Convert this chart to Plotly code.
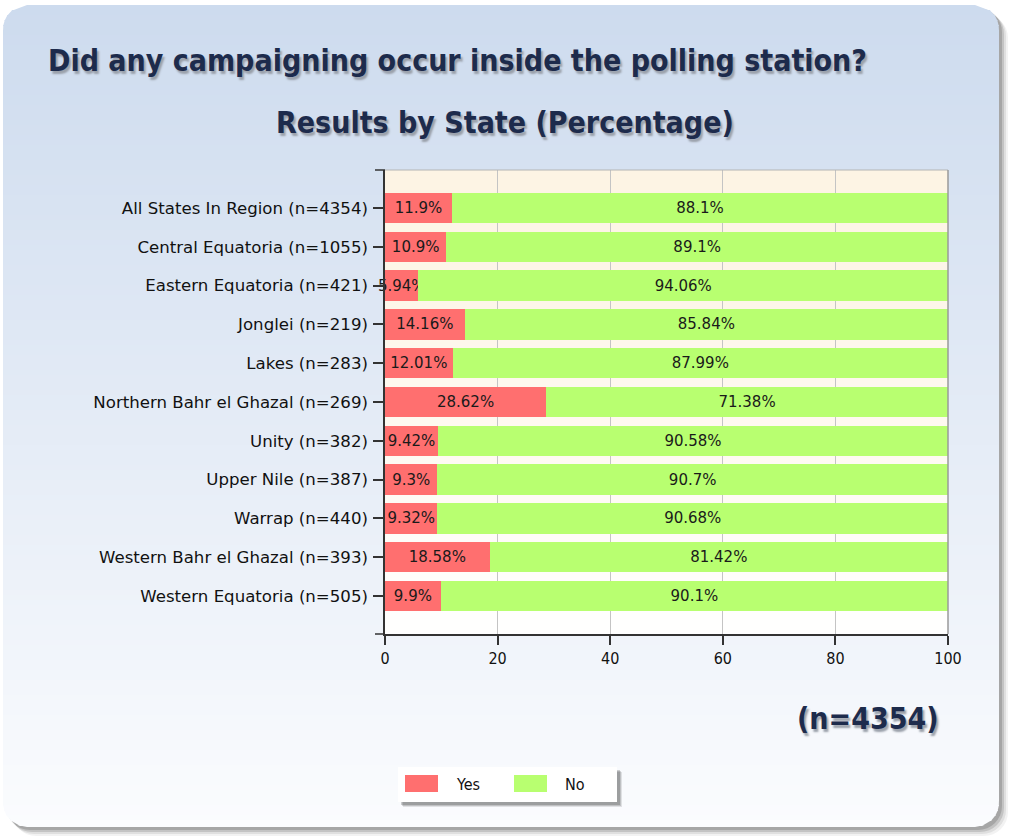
import math
import plotly.graph_objects as go

# ---------------- data ----------------
states = [
    "All States In Region (n=4354)",
    "Central Equatoria (n=1055)",
    "Eastern Equatoria (n=421)",
    "Jonglei (n=219)",
    "Lakes (n=283)",
    "Northern Bahr el Ghazal (n=269)",
    "Unity (n=382)",
    "Upper Nile (n=387)",
    "Warrap (n=440)",
    "Western Bahr el Ghazal (n=393)",
    "Western Equatoria (n=505)",
]
yes_pct = [11.9, 10.9, 5.94, 14.16, 12.01, 28.62, 9.42, 9.3, 9.32, 18.58, 9.9]
no_pct = [88.1, 89.1, 94.06, 85.84, 87.99, 71.38, 90.58, 90.7, 90.68, 81.42, 90.1]
series_names = ["Yes", "No"]
series_colors = ["#ff6f6f", "#b8ff70"]
x_ticks = [0, 20, 40, 60, 80, 100]

title_text = "Did any campaigning occur inside the polling station?"
subtitle_text = "Results by State (Percentage)"
n_text = "(n=4354)"

# ---------------- geometry helpers (pixels -> paper) ----------------
W, H = 1015, 839
PL, PR, PT, PB = 385, 948, 170, 634


def px(x):
    return (x - PL) / (PR - PL)


def py(y):
    return (PB - y) / (PB - PT)


def lerp_color(c0, c1, t):
    return "rgb(%d,%d,%d)" % tuple(round(a + (b - a) * t) for a, b in zip(c0, c1))


def inset(y, top, bottom, r):
    d = min(y - top, bottom - y)
    if d >= r:
        return 0.0
    d = max(d, 0)
    return r - math.sqrt(max(r * r - (r - d) ** 2, 0))


def rounded_path(x0, y0, x1, y1, r, steps=8):
    pts = []
    corners = [
        (x1 - r, y0 + r, -90, 0),
        (x1 - r, y1 - r, 0, 90),
        (x0 + r, y1 - r, 90, 180),
        (x0 + r, y0 + r, 180, 270),
    ]
    for cx, cy, a0, a1 in corners:
        for i in range(steps + 1):
            a = math.radians(a0 + (a1 - a0) * i / steps)
            pts.append((cx + r * math.cos(a), cy + r * math.sin(a)))
    return "M " + " L ".join("%.5f,%.5f" % (px(x), py(y)) for x, y in pts) + " Z"


shapes = []

# panel shadow
P_X0, P_Y0, P_X1, P_Y1, P_R = 3, 5, 999, 827, 24
for off, col in [(9, "rgba(0,0,0,0.05)"), (7, "rgba(0,0,0,0.08)"), (5, "rgba(0,0,0,0.12)"), (3, "rgba(0,0,0,0.15)")]:
    shapes.append(dict(type="path", xref="paper", yref="paper", layer="below",
                       path=rounded_path(P_X0 + off, P_Y0 + off, P_X1 + off, P_Y1 + off, P_R),
                       fillcolor=col, line=dict(width=0)))

# panel gradient (light blue -> near white)
top_c = (205, 219, 238)
bot_c = (251, 252, 254)
step = 5
y = P_Y0
while y < P_Y1:
    y0 = y
    y1 = min(y + step, P_Y1)
    t = (y0 - P_Y0) / (P_Y1 - P_Y0)
    col = lerp_color(top_c, bot_c, t)
    ya, yb = y0, min(y1 + 1, P_Y1)
    ia, ib = inset(ya, P_Y0, P_Y1, P_R), inset(yb, P_Y0, P_Y1, P_R)
    path = "M %.5f,%.5f L %.5f,%.5f L %.5f,%.5f L %.5f,%.5f Z" % (
        px(P_X0 + ia), py(ya), px(P_X1 - ia), py(ya),
        px(P_X1 - ib), py(yb), px(P_X0 + ib), py(yb))
    shapes.append(dict(type="path", xref="paper", yref="paper", layer="below",
                       path=path, fillcolor=col, line=dict(width=0)))
    y = y1

# plot area gradient (cream -> white)
cream = (253, 244, 228)
white = (255, 255, 255)
y = PT
while y < PB:
    y0 = y
    y1 = min(y + 6, PB)
    t = (y0 - PT) / (PB - PT)
    col = lerp_color(cream, white, t ** 1.3)
    shapes.append(dict(type="rect", xref="paper", yref="paper", layer="below",
                       x0=0, x1=1, y0=py(y0), y1=py(min(y1 + 1, PB)),
                       fillcolor=col, line=dict(width=0)))
    y = y1

# plot frame (top / right light gray)
shapes.append(dict(type="line", xref="paper", yref="paper", x0=0, x1=1, y0=1, y1=1,
                   line=dict(color="#b4b4b4", width=1)))
shapes.append(dict(type="line", xref="paper", yref="paper", x0=1, x1=1, y0=0, y1=1,
                   line=dict(color="#9a9a9a", width=1.5)))
# end ticks on y axis
for yy in (0, 1):
    shapes.append(dict(type="line", xref="paper", yref="paper", x0=px(PL - 10), x1=0, y0=yy, y1=yy,
                       line=dict(color="#333333", width=1.5)))

# legend box + shadow
LG_X0, LG_Y0, LG_X1, LG_Y1 = 398, 767, 617, 802
for off, col in [(5, "rgba(0,0,0,0.10)"), (4, "rgba(0,0,0,0.14)"), (3, "rgba(0,0,0,0.18)")]:
    shapes.append(dict(type="rect", xref="paper", yref="paper", layer="below",
                       x0=px(LG_X0 + off), x1=px(LG_X1 + off), y0=py(LG_Y0 + off), y1=py(LG_Y1 + off),
                       fillcolor=col, line=dict(width=0)))
shapes.append(dict(type="rect", xref="paper", yref="paper", layer="below",
                   x0=px(LG_X0), x1=px(LG_X1), y0=py(LG_Y0), y1=py(LG_Y1),
                   fillcolor="white", line=dict(width=0)))

legend_font = dict(family="DejaVu Sans Condensed, DejaVu Sans, sans-serif", size=16, color="#111111")
annotations = []
swatch_x = [405, 514]
for name, col, sx in zip(series_names, series_colors, swatch_x):
    shapes.append(dict(type="rect", xref="paper", yref="paper",
                       x0=px(sx), x1=px(sx + 33), y0=py(775), y1=py(792),
                       fillcolor=col, line=dict(width=0)))
    annotations.append(dict(text=name, xref="paper", yref="paper", x=px(sx + 49), y=py(784),
                            xanchor="left", yanchor="middle", showarrow=False, font=legend_font))

# ---------------- figure ----------------
bar_font = dict(family="DejaVu Sans, Verdana, sans-serif", size=15, color="#1a1a1a")

fig = go.Figure()
for name, vals, col in zip(series_names, [yes_pct, no_pct], series_colors):
    fig.add_trace(go.Bar(
        y=states, x=vals, name=name, orientation="h",
        marker=dict(color=col, line=dict(width=0)),
        text=[f"{v}%" for v in vals], textposition="inside", insidetextanchor="middle",
        textangle=0, constraintext="none", textfont=bar_font, cliponaxis=False,
    ))

title_font = dict(family="DejaVu Sans Condensed, Liberation Sans Narrow, DejaVu Sans, sans-serif",
                  size=30, color="#1d2b4c", weight="bold", shadow="2px 3px 2px #9aa0aa")

annotations += [
    dict(text=title_text, xref="paper", yref="paper", x=px(46), y=py(60),
         xanchor="left", yanchor="middle", showarrow=False, font=title_font),
    dict(text=subtitle_text, xref="paper", yref="paper", x=px(505), y=py(122),
         xanchor="center", yanchor="middle", showarrow=False, font=title_font),
    dict(text=n_text, xref="paper", yref="paper", x=px(941), y=py(718),
         xanchor="right", yanchor="middle", showarrow=False, font=title_font),
]

fig.update_layout(
    width=W, height=H,
    margin=dict(l=PL, r=W - PR, t=PT, b=H - PB, autoexpand=False),
    barmode="stack", bargap=0.22,
    paper_bgcolor="white", plot_bgcolor="rgba(0,0,0,0)",
    shapes=shapes, annotations=annotations,
    showlegend=False,
    xaxis=dict(range=[0, 100], tickvals=x_ticks, ticktext=[str(v) for v in x_ticks],
               showgrid=True, gridcolor="#c4c4c4", gridwidth=1, zeroline=False,
               showline=True, linecolor="#333333", linewidth=1.5,
               ticks="outside", ticklen=9, tickcolor="#333333", tickwidth=1.5,
               tickfont=dict(family="DejaVu Sans Condensed, DejaVu Sans, sans-serif", size=16, color="#111111"),
               fixedrange=True),
    yaxis=dict(categoryorder="array", categoryarray=states, range=[10.98, -0.98],
               showgrid=False, zeroline=False,
               showline=True, linecolor="#333333", linewidth=1.5,
               ticks="outside", ticklen=10, tickcolor="#333333", tickwidth=1.5,
               ticklabelstandoff=2,
               tickfont=dict(family="DejaVu Sans, Verdana, sans-serif", size=16.6, color="#111111"),
               fixedrange=True),
)

fig.write_html("out.html", config={"displayModeBar": False},
               post_script="document.body.style.margin='0';document.body.style.overflow='hidden';")
